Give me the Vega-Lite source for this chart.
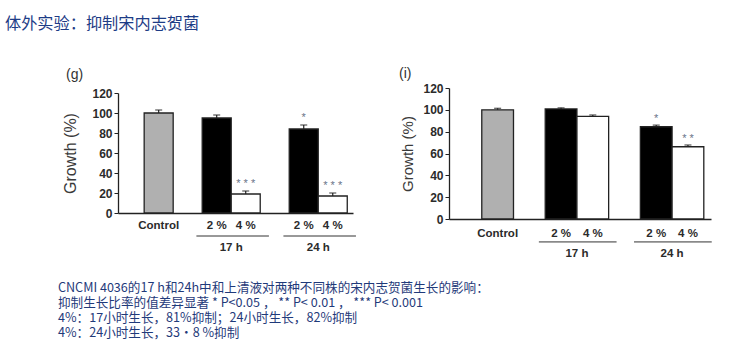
{
  "$schema": "https://vega.github.io/schema/vega-lite/v6.json",
  "padding": {"left": 4, "top": 15, "right": 0, "bottom": 0},
  "background": "white",
  "title": {"text": "体外实验：抑制宋内志贺菌", "anchor": "start", "frame": "bounds", "dx": -53, "offset": 35, "font": "Noto Sans CJK SC", "fontSize": 16.2, "fontWeight": "normal", "color": "#1d3c86"},
  "config": {
    "view": {"stroke": null},
    "axis": {"domainColor": "#222", "domainWidth": 1.3, "tickColor": "#222", "labelColor": "#2b2b2b", "labelFont": "Liberation Sans", "labelFontWeight": "bold", "titleFont": "Liberation Sans", "titleColor": "#3a3a3a", "titleFontWeight": "normal", "grid": false},
    "title": {"font": "Liberation Sans", "fontWeight": "normal", "color": "#333"}
  },
  "vconcat": [
    {
      "title": {"text": ["CNCMI 4036的17 h和24h中和上清液对两种不同株的宋内志贺菌生长的影响：", "抑制生长比率的值差异显著 * P<0.05 ， ** P< 0.01 ， *** P< 0.001", "4%：17小时生长，81%抑制；24小时生长，82%抑制", "4%：24小时生长，33·8 %抑制"], "orient": "bottom", "anchor": "start", "frame": "bounds", "dx": -5, "offset": 23, "font": "Noto Sans CJK SC", "fontSize": 12.6, "lineHeight": 15, "fontWeight": "normal", "color": "#1f3a7a"},
      "bounds": "flush",
      "spacing": 96,
      "hconcat": [
        {
          "title": {"text": "(g)", "anchor": "start", "frame": "bounds", "dx": 3, "offset": 5, "fontSize": 14},
          "width": 235,
          "height": 125,
          "data": {"values": [
            {"cat": "Control", "conc": "Control", "value": 100, "hi": 103, "sig": "", "pair": "", "group": ""},
            {"cat": "17 h|2 %", "conc": "2%", "value": 95, "hi": 98, "sig": "", "pair": "17 h|4 %", "group": "17 h"},
            {"cat": "17 h|4 %", "conc": "4%", "value": 19, "hi": 22, "sig": "* * *", "pair": "", "group": ""},
            {"cat": "24 h|2 %", "conc": "2%", "value": 84, "hi": 88, "sig": "*", "pair": "24 h|4 %", "group": "24 h"},
            {"cat": "24 h|4 %", "conc": "4%", "value": 17, "hi": 20, "sig": "* * *", "pair": "", "group": ""}
          ]},
          "encoding": {
            "x": {"field": "cat", "type": "nominal", "sort": null,
              "scale": {"domain": ["Control", "p1", "17 h|2 %", "17 h|4 %", "p2", "24 h|2 %", "24 h|4 %"], "paddingInner": 0, "paddingOuter": 0.55, "align": 0.82},
              "axis": {"title": null, "ticks": false, "labelAngle": 0, "labelPadding": 6, "labelFontSize": 11.5, "labelExpr": "indexof(datum.value,'|') > 0 ? split(datum.value,'|')[1] : (datum.value == 'Control' ? 'Control' : '')"}},
            "y": {"field": "value", "type": "quantitative",
              "scale": {"domain": [0, 120], "range": [125, 5], "nice": false},
              "axis": {"title": "Growth (%)", "values": [0, 20, 40, 60, 80, 100, 120], "tickSize": 4, "labelPadding": 2, "labelFontSize": 12, "titleFontSize": 16, "titlePadding": 13}}
          },
          "layer": [
            {"mark": {"type": "bar", "stroke": "#222", "strokeWidth": 1.3},
             "encoding": {"color": {"field": "conc", "type": "nominal", "scale": {"domain": ["Control", "2%", "4%"], "range": ["#b0b0b0", "#000000", "#ffffff"]}, "legend": null}}},
            {"mark": {"type": "rule", "color": "#222", "strokeWidth": 1.2},
             "encoding": {"y2": {"field": "hi"}}},
            {"mark": {"type": "tick", "color": "#222", "size": 7, "thickness": 1.3},
             "encoding": {"y": {"field": "hi", "type": "quantitative"}}},
            {"mark": {"type": "text", "font": "Liberation Sans", "fontSize": 11, "color": "#6a7488", "baseline": "alphabetic", "dy": -4},
             "encoding": {"y": {"field": "hi", "type": "quantitative"}, "text": {"field": "sig"}}},
            {"transform": [{"filter": "datum.conc == '2%'"}],
             "mark": {"type": "rule", "color": "#333", "strokeWidth": 1},
             "encoding": {"x": {"field": "cat", "type": "nominal", "bandPosition": -0.2}, "x2": {"field": "pair", "bandPosition": 1.3}, "y": {"datum": -23, "type": "quantitative"}}},
            {"transform": [{"filter": "datum.conc == '2%'"}],
             "mark": {"type": "text", "font": "Liberation Sans", "fontSize": 11.5, "fontWeight": "bold", "color": "#2b2b2b", "baseline": "middle"},
             "encoding": {"x": {"field": "pair", "type": "nominal", "bandPosition": 0}, "y": {"datum": -35, "type": "quantitative"}, "text": {"field": "group"}}}
          ]
        },
        {
          "title": {"text": "(i)", "anchor": "start", "frame": "bounds", "dx": -2, "offset": 1, "fontSize": 14},
          "width": 262,
          "height": 131,
          "data": {"values": [
            {"cat": "Control", "conc": "Control", "value": 100, "hi": 101.4, "sig": "", "pair": "", "group": ""},
            {"cat": "17 h|2 %", "conc": "2%", "value": 100.8, "hi": 101.8, "sig": "", "pair": "17 h|4 %", "group": "17 h"},
            {"cat": "17 h|4 %", "conc": "4%", "value": 94, "hi": 95.3, "sig": "", "pair": "", "group": ""},
            {"cat": "24 h|2 %", "conc": "2%", "value": 84.5, "hi": 86, "sig": "*", "pair": "24 h|4 %", "group": "24 h"},
            {"cat": "24 h|4 %", "conc": "4%", "value": 66.2, "hi": 67.8, "sig": "* *", "pair": "", "group": ""}
          ]},
          "encoding": {
            "x": {"field": "cat", "type": "nominal", "sort": null,
              "scale": {"domain": ["Control", "p1", "17 h|2 %", "17 h|4 %", "p2", "24 h|2 %", "24 h|4 %"], "paddingInner": 0, "paddingOuter": 0.63, "align": 0.82},
              "axis": {"title": null, "ticks": false, "labelAngle": 0, "labelPadding": 8, "labelFontSize": 11.5, "labelExpr": "indexof(datum.value,'|') > 0 ? split(datum.value,'|')[1] : (datum.value == 'Control' ? 'Control' : '')"}},
            "y": {"field": "value", "type": "quantitative",
              "scale": {"domain": [0, 120], "nice": false},
              "axis": {"title": "Growth (%)", "values": [0, 20, 40, 60, 80, 100, 120], "tickSize": 4, "labelPadding": 2, "labelFontSize": 12, "titleFontSize": 15, "titlePadding": 7}}
          },
          "layer": [
            {"mark": {"type": "bar", "stroke": "#222", "strokeWidth": 1.3},
             "encoding": {"color": {"field": "conc", "type": "nominal", "scale": {"domain": ["Control", "2%", "4%"], "range": ["#b0b0b0", "#000000", "#ffffff"]}, "legend": null}}},
            {"mark": {"type": "rule", "color": "#222", "strokeWidth": 1.2},
             "encoding": {"y2": {"field": "hi"}}},
            {"mark": {"type": "tick", "color": "#222", "size": 7, "thickness": 1.3},
             "encoding": {"y": {"field": "hi", "type": "quantitative"}}},
            {"mark": {"type": "text", "font": "Liberation Sans", "fontSize": 11, "color": "#6a7488", "baseline": "alphabetic", "dy": -3},
             "encoding": {"y": {"field": "hi", "type": "quantitative"}, "text": {"field": "sig"}}},
            {"transform": [{"filter": "datum.conc == '2%'"}],
             "mark": {"type": "rule", "color": "#333", "strokeWidth": 1},
             "encoding": {"x": {"field": "cat", "type": "nominal", "bandPosition": -0.2}, "x2": {"field": "pair", "bandPosition": 1.25}, "y": {"datum": -21, "type": "quantitative"}}},
            {"transform": [{"filter": "datum.conc == '2%'"}],
             "mark": {"type": "text", "font": "Liberation Sans", "fontSize": 11.5, "fontWeight": "bold", "color": "#2b2b2b", "baseline": "middle"},
             "encoding": {"x": {"field": "pair", "type": "nominal", "bandPosition": 0}, "y": {"datum": -32, "type": "quantitative"}, "text": {"field": "group"}}}
          ]
        }
      ]
    }
  ]
}
